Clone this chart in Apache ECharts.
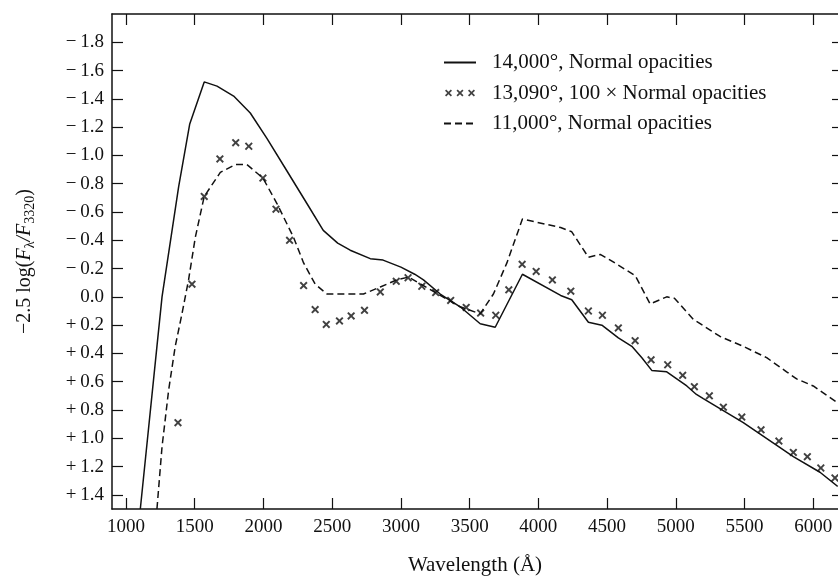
<!DOCTYPE html>
<html><head><meta charset="utf-8">
<script src="https://cdn.jsdelivr.net/npm/echarts@6/dist/echarts.min.js"></script>
<style>html,body{margin:0;padding:0;background:#fff}#c{width:838px;height:581px}</style>
</head><body><div id="c"></div>
<script>
// ---- data ----
const wavelengthTicks = [1000,1500,2000,2500,3000,3500,4000,4500,5000,5500,6000];
const magTicks = [-1.8,-1.6,-1.4,-1.2,-1.0,-0.8,-0.6,-0.4,-0.2,0.0,0.2,0.4,0.6,0.8,1.0,1.2,1.4];
const seriesNames = ['14,000°, Normal opacities','13,090°, 100 × Normal opacities','11,000°, Normal opacities'];

const solid14000 = [
  [1104,1.50],[1225,0.35],[1262,0.00],[1324,-0.40],[1383,-0.78],[1463,-1.22],[1569,-1.52],
  [1662,-1.49],[1783,-1.42],[1904,-1.30],[2025,-1.12],[2171,-0.89],[2316,-0.66],[2435,-0.47],
  [2540,-0.38],[2631,-0.33],[2777,-0.27],[2870,-0.26],[3000,-0.21],[3100,-0.16],[3164,-0.12],
  [3286,-0.02],[3431,0.07],[3577,0.19],[3686,0.215],[3884,-0.16],[4162,-0.01],[4243,0.02],
  [4364,0.18],[4462,0.20],[4582,0.29],[4680,0.35],[4753,0.43],[4825,0.52],[4934,0.53],
  [5080,0.63],[5150,0.69],[5200,0.72],[5491,0.89],[5855,1.13],[6049,1.24],[6178,1.34]
];
const crosses13090 = [
  [1378,0.89],[1480,-0.09],[1569,-0.71],[1683,-0.975],[1798,-1.09],[1893,-1.065],[1996,-0.84],
  [2091,-0.62],[2190,-0.40],[2292,-0.08],[2376,0.09],[2457,0.195],[2553,0.17],[2638,0.135],
  [2735,0.095],[2850,-0.035],[2966,-0.11],[3052,-0.135],[3152,-0.075],[3253,-0.03],[3362,0.025],
  [3475,0.075],[3580,0.115],[3690,0.13],[3785,-0.05],[3882,-0.23],[3984,-0.18],[4102,-0.12],
  [4236,-0.04],[4364,0.10],[4466,0.13],[4582,0.22],[4704,0.31],[4820,0.445],[4941,0.48],
  [5050,0.555],[5135,0.635],[5244,0.70],[5346,0.78],[5480,0.85],[5620,0.94],[5750,1.02],
  [5855,1.10],[5957,1.13],[6055,1.21],[6158,1.28]
];
const dashed11000 = [
  [1225,1.50],[1262,1.06],[1310,0.66],[1358,0.35],[1407,0.12],[1455,-0.12],[1504,-0.42],
  [1569,-0.71],[1686,-0.88],[1795,-0.935],[1880,-0.935],[1996,-0.84],[2098,-0.66],[2219,-0.42],
  [2292,-0.24],[2376,-0.09],[2462,-0.02],[2728,-0.02],[2850,-0.07],[2971,-0.12],[3055,-0.14],
  [3164,-0.08],[3286,-0.01],[3431,0.07],[3577,0.12],[3673,-0.02],[3771,-0.24],[3884,-0.55],
  [4162,-0.49],[4243,-0.46],[4364,-0.28],[4450,-0.30],[4523,-0.26],[4705,-0.15],[4813,0.05],
  [4934,0.00],[4990,0.01],[5128,0.16],[5177,0.19],[5322,0.28],[5491,0.35],[5661,0.43],
  [5806,0.53],[5879,0.58],[6000,0.63],[6178,0.75]
];

// ---- styling ----
const FONT = '"Liberation Serif", "Times New Roman", serif';
const INK = '#111';
function crossPath(ox, s, d) {
  const h = s / 2;
  return 'M' + ox + ',' + d + ' L' + (ox + d) + ',0 L' + (ox + h) + ',' + (h - d) +
    ' L' + (ox + s - d) + ',0 L' + (ox + s) + ',' + d + ' L' + (ox + h + d) + ',' + h +
    ' L' + (ox + s) + ',' + (s - d) + ' L' + (ox + s - d) + ',' + s + ' L' + (ox + h) + ',' + (h + d) +
    ' L' + (ox + d) + ',' + s + ' L' + ox + ',' + (s - d) + ' L' + (ox + h - d) + ',' + h + ' Z ';
}
const crossSymbol = 'path://' + crossPath(0, 10, 1.7);
const legendCrosses = 'path://' + crossPath(0, 7, 1.2) + crossPath(11.5, 7, 1.2) + crossPath(23, 7, 1.2);

function fmtMag(v) {
  const k = Math.round(v * 5);
  const a = Math.abs(k / 5).toFixed(1);
  if (k < 0) return '\u2212\u2009' + a;
  if (k > 0) return '+\u2009' + a;
  return a;
}

const X_MIN = 898, X_MAX = 6180, Y_MIN = -2.0, Y_MAX = 1.5;
const lineAx = { show: true, onZero: false, lineStyle: { color: INK, width: 1.5 } };
const hiddenDot = { color: 'rgba(0,0,0,0)', opacity: 0, borderWidth: 0 };

const chart = echarts.init(document.getElementById('c'), null, { renderer: 'canvas' });
chart.setOption({
  backgroundColor: '#fff',
  animation: false,
  grid: { left: 112, right: 0, top: 14, bottom: 71, containLabel: false },
  legend: {
    orient: 'vertical', left: 443, top: 52, padding: 0, itemWidth: 32, itemHeight: 7, itemGap: 9.5,
    textStyle: { fontFamily: FONT, fontSize: 21, color: INK, lineHeight: 20, padding: [0, 0, 0, 11] },
    data: [
      { name: seriesNames[0], itemStyle: hiddenDot },
      { name: seriesNames[1], icon: legendCrosses },
      { name: seriesNames[2], itemStyle: hiddenDot }
    ]
  },
  xAxis: [
    {
      type: 'value', min: X_MIN, max: X_MAX, position: 'bottom',
      name: 'Wavelength (Å)', nameLocation: 'middle', nameGap: 46,
      nameTextStyle: { fontFamily: FONT, fontSize: 21, color: INK },
      axisLine: lineAx,
      axisTick: { inside: true, length: 11, customValues: wavelengthTicks, lineStyle: { color: INK, width: 1.2 } },
      axisLabel: { customValues: wavelengthTicks, formatter: function (v) { return String(v); },
        fontFamily: FONT, fontSize: 19, color: INK, margin: 9 },
      splitLine: { show: false }
    },
    {
      type: 'value', min: X_MIN, max: X_MAX, position: 'top',
      axisLine: lineAx,
      axisTick: { inside: true, length: 11, customValues: wavelengthTicks, lineStyle: { color: INK, width: 1.2 } },
      axisLabel: { show: false },
      splitLine: { show: false }
    }
  ],
  yAxis: [
    {
      type: 'value', inverse: true, min: Y_MIN, max: Y_MAX, position: 'left',
      name: '\u22122.5 log({it|F}{sub|\u03bb}{it|/F}{sub|3320})', nameLocation: 'middle', nameGap: 75, nameRotate: 90,
      nameTextStyle: {
        fontFamily: FONT, fontSize: 20, color: INK,
        rich: {
          it: { fontFamily: FONT, fontSize: 20, fontStyle: 'italic', color: INK },
          sub: { fontFamily: FONT, fontSize: 14, color: INK, padding: [10, 0, 0, 0] }
        }
      },
      axisLine: lineAx,
      axisTick: { inside: true, length: 11, customValues: magTicks, lineStyle: { color: INK, width: 1.2 } },
      axisLabel: { customValues: magTicks, formatter: fmtMag, fontFamily: FONT, fontSize: 19, color: INK, margin: 8 },
      splitLine: { show: false }
    },
    {
      type: 'value', inverse: true, min: Y_MIN, max: Y_MAX, position: 'right',
      axisLine: { show: false, onZero: false },
      axisTick: { show: true, inside: true, length: 6, customValues: magTicks, lineStyle: { color: INK, width: 1.2 } },
      axisLabel: { show: false },
      splitLine: { show: false }
    }
  ],
  series: [
    {
      name: seriesNames[0], type: 'line', data: solid14000, symbol: 'none', smooth: false,
      lineStyle: { color: INK, width: 1.5, type: 'solid' }, itemStyle: { color: INK }
    },
    {
      name: seriesNames[1], type: 'scatter', data: crosses13090, symbol: crossSymbol, symbolSize: 8,
      itemStyle: { color: INK }
    },
    {
      name: seriesNames[2], type: 'line', data: dashed11000, symbol: 'none',
      lineStyle: { color: INK, width: 1.5, type: [7, 4] }, itemStyle: { color: INK }
    }
  ]
});
</script>
</body></html>
